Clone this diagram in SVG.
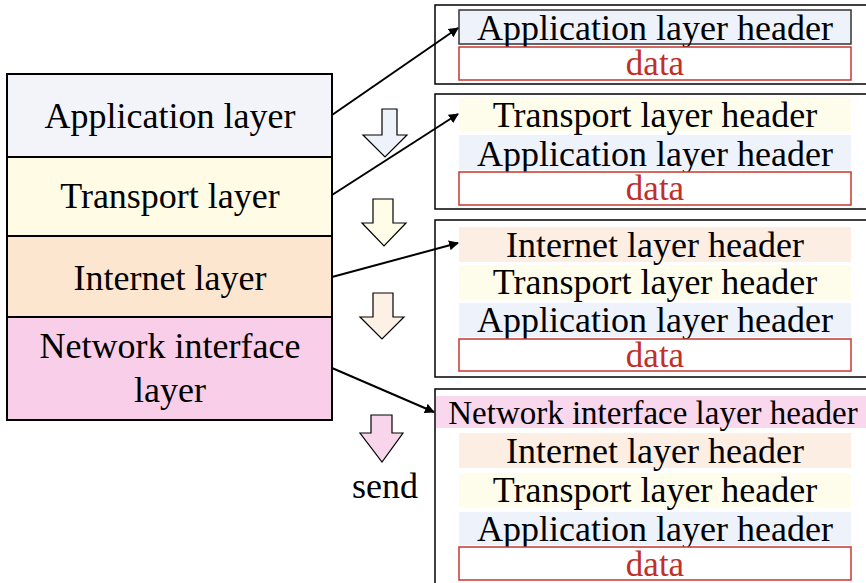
<svg xmlns="http://www.w3.org/2000/svg" width="866" height="583" viewBox="0 0 866 583">
<style>
  text { font-family: "Liberation Serif", "Times New Roman", serif; fill: #000; text-anchor: middle; }
  .t36 { font-size: 36px; }
  .t33 { font-size: 33px; }
  .data { font-size: 35px; fill: #C0302A; }
  .layer { stroke: #000; stroke-width: 2; }
  .frame { fill: #fff; stroke: #000; stroke-width: 1.5; }
  .drect { fill: #fff; stroke: #C7392F; stroke-width: 1.5; }
  .app { fill: #EEF2FA; }
  .tra { fill: #FEFDEB; }
  .int { fill: #FDEEE3; }
  .net { fill: #F9D8EE; }
  .barrow { stroke: #000; stroke-width: 1.2; }
  .conn { stroke: #000; stroke-width: 2; fill: none; marker-end: url(#ah); }
</style>
<defs>
  <marker id="ah" viewBox="0 0 10 10" refX="9" refY="5" markerWidth="5" markerHeight="5" orient="auto" markerUnits="strokeWidth">
    <path d="M0,0 L10,5 L0,10 z" fill="#000"/>
  </marker>
</defs>
<rect width="866" height="583" fill="#fff"/>

<g id="stack">
  <g id="layer-application">
    <rect class="layer" x="7" y="74" width="325" height="83" fill="#F3F4FA"/>
    <text class="t36" x="170" y="128">Application layer</text>
  </g>
  <g id="layer-transport">
    <rect class="layer" x="7" y="157" width="325" height="79" fill="#FFFBE4"/>
    <text class="t36" x="170" y="208">Transport layer</text>
  </g>
  <g id="layer-internet">
    <rect class="layer" x="7" y="236" width="325" height="81" fill="#FDE6D0"/>
    <text class="t36" x="170" y="290">Internet layer</text>
  </g>
  <g id="layer-network">
    <rect class="layer" x="7" y="317" width="325" height="103" fill="#F8CEE8"/>
    <text class="t36" x="170" y="358">Network interface</text>
    <text class="t36" x="170" y="402">layer</text>
  </g>
</g>

<g id="down-arrows">
  <g id="arrow1"><path class="barrow" fill="#EEF2FA" d="M382,109 H397 V135 H407 L385,157 L363,135 H382 Z"/></g>
  <g id="arrow2"><path class="barrow" fill="#FFFDE8" d="M373,199 H393 V223 H406 L384,246 L362,223 H373 Z"/></g>
  <g id="arrow3"><path class="barrow" fill="#FDF0E4" d="M373,293 H393 V317 H404 L382,339 L360,317 H373 Z"/></g>
  <g id="arrow4"><path class="barrow" fill="#F9D5EC" d="M371,415 H392 V433 H403 L382,462 L360,433 H371 Z"/></g>
  <text id="send" class="t36" x="385" y="498">send</text>
</g>

<g id="packet1">
  <rect class="frame" x="435" y="5" width="440" height="79"/>
  <rect class="app" x="459" y="10" width="392" height="34" stroke="#333" stroke-width="1.5"/>
  <text class="t36" x="655" y="40">Application layer header</text>
  <rect class="drect" x="459" y="47" width="392" height="33"/>
  <text class="data" x="655" y="75">data</text>
</g>

<g id="packet2">
  <rect class="frame" x="435" y="94" width="440" height="115"/>
  <rect class="tra" x="459" y="97" width="392" height="34"/>
  <text class="t36" x="655" y="127">Transport layer header</text>
  <rect class="app" x="459" y="135" width="392" height="35"/>
  <text class="t36" x="655" y="166">Application layer header</text>
  <rect class="drect" x="459" y="172" width="392" height="33"/>
  <text class="data" x="655" y="200">data</text>
</g>

<g id="packet3">
  <rect class="frame" x="435" y="220" width="440" height="157"/>
  <rect class="int" x="459" y="227" width="392" height="35"/>
  <text class="t36" x="655" y="257">Internet layer header</text>
  <rect class="tra" x="459" y="265" width="392" height="35"/>
  <text class="t36" x="655" y="294">Transport layer header</text>
  <rect class="app" x="459" y="303" width="392" height="34"/>
  <text class="t36" x="655" y="332">Application layer header</text>
  <rect class="drect" x="459" y="339" width="392" height="32"/>
  <text class="data" x="655" y="367">data</text>
</g>

<g id="packet4">
  <rect class="frame" x="435" y="389" width="440" height="210"/>
  <rect class="net" x="436" y="396" width="430" height="32"/>
  <text class="t33" x="653" y="424">Network interface layer header</text>
  <rect class="int" x="459" y="433" width="392" height="35"/>
  <text class="t36" x="655" y="463">Internet layer header</text>
  <rect class="tra" x="459" y="473" width="392" height="34"/>
  <text class="t36" x="655" y="502">Transport layer header</text>
  <rect class="app" x="459" y="512" width="392" height="33"/>
  <text class="t36" x="655" y="541">Application layer header</text>
  <rect class="drect" x="459" y="547" width="392" height="33"/>
  <text class="data" x="655" y="576">data</text>
</g>

<g id="connectors">
  <line class="conn" x1="332" y1="115" x2="458" y2="28"/>
  <line class="conn" x1="332" y1="195" x2="458" y2="114"/>
  <line class="conn" x1="332" y1="277" x2="458" y2="243"/>
  <line class="conn" x1="332" y1="368" x2="434" y2="412"/>
</g>
</svg>
